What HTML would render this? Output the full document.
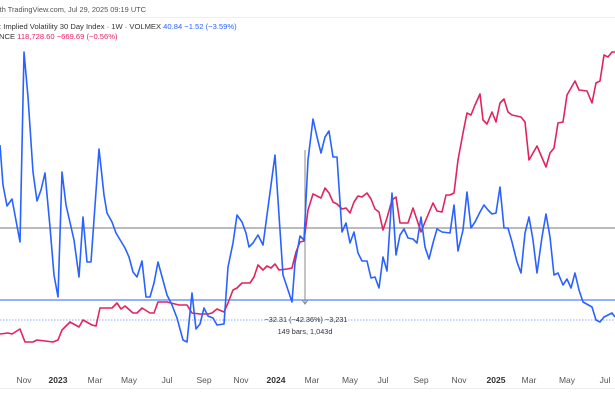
<!DOCTYPE html>
<html><head><meta charset="utf-8"><style>
html,body{margin:0;padding:0;background:#fff;width:615px;height:410px;overflow:hidden}
svg{display:block}
text{font-family:"Liberation Sans",sans-serif}
</style></head><body>
<svg width="615" height="410" viewBox="0 0 615 410" xmlns="http://www.w3.org/2000/svg">
<rect width="615" height="410" fill="#fff"/>
<text x="-2" y="12" font-size="7.6" fill="#555" textLength="148" lengthAdjust="spacingAndGlyphs">ith TradingView.com, Jul 29, 2025 09:19 UTC</text>
<line x1="0" y1="17.5" x2="615" y2="17.5" stroke="#eee"/>
<text x="-1" y="29" font-size="7.6" fill="#333">: Implied Volatility 30 Day Index · 1W · VOLMEX <tspan fill="#2962ff">40.84  −1.52 (−3.59%)</tspan></text>
<text x="-1" y="39" font-size="7.6" fill="#333">NCE <tspan fill="#e91e63">118,728.60  −669.69 (−0.56%)</tspan></text>
<line x1="0" y1="228" x2="615" y2="228" stroke="#777" stroke-width="1"/>
<line x1="0" y1="300" x2="615" y2="300" stroke="#2962ff" stroke-width="1"/>
<line x1="0" y1="320" x2="615" y2="320" stroke="#2962ff" stroke-width="0.8" stroke-dasharray="1.5,1.5" opacity="0.7"/>
<line x1="305" y1="150" x2="305" y2="303" stroke="#888" stroke-width="1"/>
<path d="M302 300 L305 304 L308 300" fill="none" stroke="#888"/>
<polyline fill="none" stroke="#e0245e" stroke-width="1.6" stroke-linejoin="round" points="0,334 8,333 12,334 20,329 25,342 33,342 37,340 45,341 53,342 58,340 62,330 70,322 79,327 83,320 92,325 96,326 100,308 108,308 112,308 117,303 121,309 125,306 133,313 137,313 142,308 150,313 154,313 158,302 167,302 175,304 179,305 187,305 192,313 200,314 208,314 212,313 217,309 224,312 228,303 233,290 237,288 242,283 250,283 254,277 258,265 263,270 267,266 271,268 275,264 279,270 287,269 292,268 296,252 300,242 304,241 308,210 313,194 321,198 325,188 329,193 333,202 337,204 342,209 346,208 350,213 354,202 358,196 362,197 367,193 371,199 375,209 379,212 383,230 387,218 392,200 396,197 400,223 408,223 413,208 421,232 425,222 433,203 437,211 442,212 446,195 450,195 454,193 458,160 463,133 467,113 471,115 475,105 480,94 483,120 487,124 492,112 496,122 500,103 504,99 508,112 512,115 521,117 525,122 529,160 537,146 546,167 550,153 554,148 558,123 563,122 567,95 575,81 579,90 587,91 592,103 596,83 600,81 604,55 608,57 612,52 615,52"/>
<polyline fill="none" stroke="#2962ff" stroke-width="1.6" stroke-linejoin="round" points="0,145 3,185 7,206 12,199 20,242 24,52 28,97 33,172 37,201 41,190 45,173 50,227 54,275 58,297 62,172 66,205 74,240 79,277 83,217 87,262 91,262 99,149 104,195 107,213 112,222 116,233 125,248 129,257 133,272 137,277 142,261 146,297 150,297 154,283 158,262 167,295 172,305 177,318 183,340 187,342 192,293 196,329 200,324 204,308 208,316 213,318 217,325 224,324 228,267 233,243 237,215 242,222 246,233 249,247 253,243 258,235 263,245 275,155 283,275 292,302 295,263 300,236 304,240 308,160 313,119 317,137 321,153 325,137 329,131 333,157 337,157 342,232 346,223 350,243 354,232 358,253 362,261 367,261 371,278 375,277 379,288 383,257 387,271 392,193 396,255 400,235 404,229 408,238 413,239 417,243 421,217 425,247 429,259 433,243 437,229 442,232 450,233 454,205 458,251 463,230 467,192 471,228 475,222 480,212 484,205 488,210 492,214 496,213 500,187 504,228 508,228 512,242 517,262 521,273 525,233 529,217 533,240 537,273 542,237 546,214 550,237 554,275 558,273 563,285 567,279 571,288 575,273 579,290 583,302 592,307 596,320 600,322 604,317 612,313 615,317"/>
<text x="306" y="322" font-size="7.3" fill="#333" text-anchor="middle">−32.31 (−42.36%) −3,231</text>
<text x="305" y="334" font-size="7.3" fill="#333" text-anchor="middle">149 bars, 1,043d</text>
<g font-size="8.5" fill="#555" text-anchor="middle">
<text x="24" y="383">Nov</text><text x="58" y="383" font-weight="bold" fill="#333">2023</text><text x="95" y="383">Mar</text><text x="129" y="383">May</text><text x="167" y="383">Jul</text><text x="204" y="383">Sep</text><text x="241" y="383">Nov</text><text x="276" y="383" font-weight="bold" fill="#333">2024</text><text x="312" y="383">Mar</text><text x="350" y="383">May</text><text x="383" y="383">Jul</text><text x="421" y="383">Sep</text><text x="459" y="383">Nov</text><text x="496" y="383" font-weight="bold" fill="#333">2025</text><text x="529" y="383">Mar</text><text x="567" y="383">May</text><text x="605" y="383">Jul</text>
</g>
<line x1="0" y1="388.5" x2="615" y2="388.5" stroke="#eee"/>
</svg>
</body></html>
